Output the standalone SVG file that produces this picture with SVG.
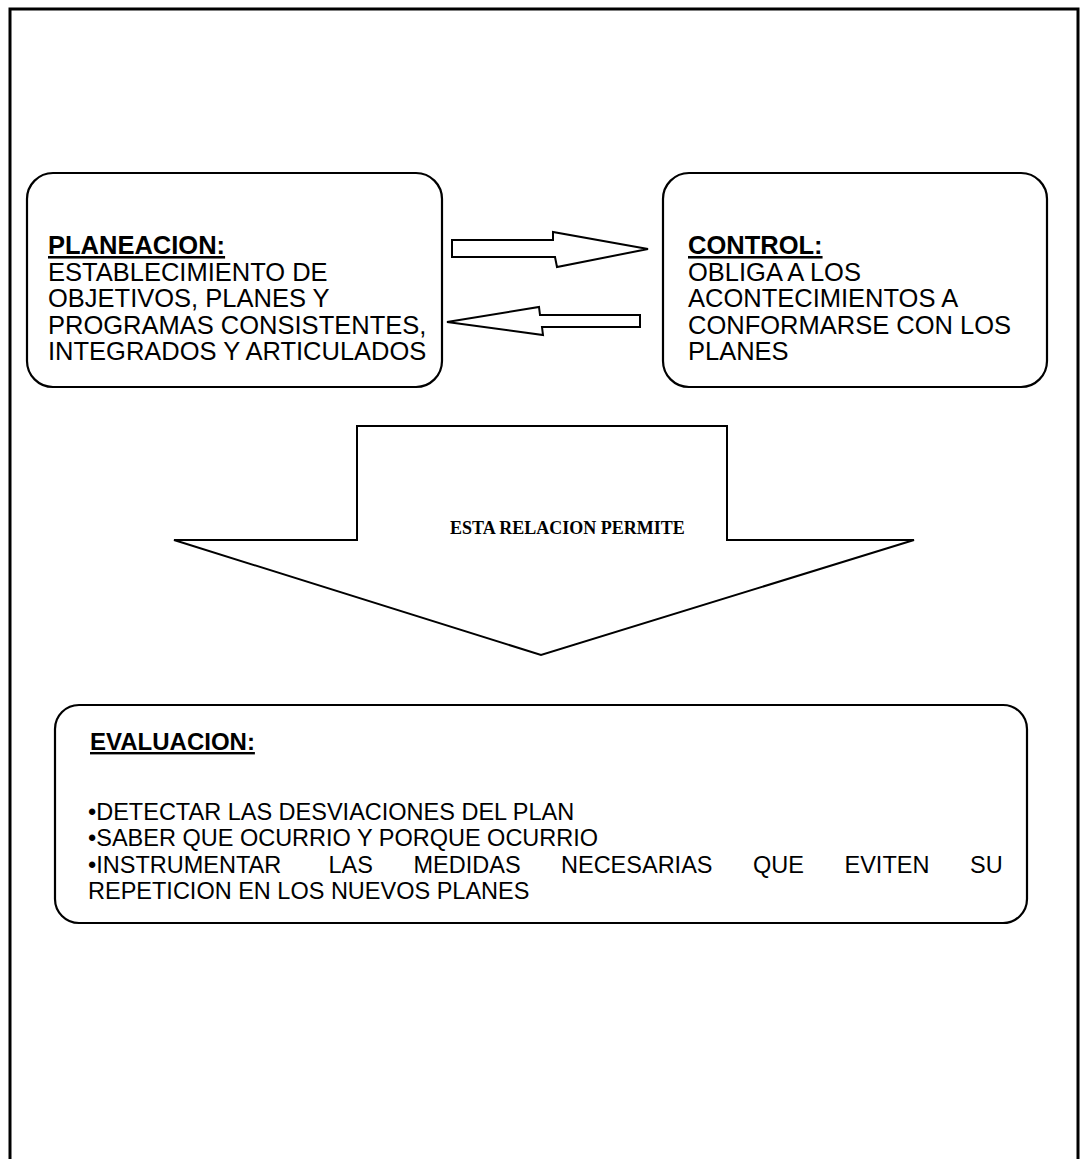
<svg xmlns="http://www.w3.org/2000/svg" width="1084" height="1159" viewBox="0 0 1084 1159">
<style>
.box{fill:#fff;stroke:#000;stroke-width:2.2}
.arr{fill:#fff;stroke:#000;stroke-width:2;stroke-linejoin:miter}
.t{font-family:"Liberation Sans",Arial,sans-serif;font-size:25.5px;fill:#000}
.h{font-family:"Liberation Sans",Arial,sans-serif;font-size:25.5px;font-weight:bold;fill:#000;text-decoration:underline}
.n{font-family:"Liberation Sans",Arial,sans-serif;font-size:23.5px;fill:#000}
.s{font-family:"Liberation Serif","Times New Roman",serif;font-size:18px;font-weight:bold;fill:#000}
</style>
<rect width="1084" height="1159" fill="#fff"/>
<path id="frame" d="M10,1159 V9 H1078 V1159" fill="none" stroke="#000" stroke-width="3"/>
<g id="planeacion">
<rect class="box" x="27" y="173" width="415" height="214" rx="26" ry="26"/>
<text class="h" x="48" y="254">PLANEACION:</text>
<text class="t" x="48" y="281">ESTABLECIMIENTO DE</text>
<text class="t" x="48" y="307">OBJETIVOS, PLANES Y</text>
<text class="t" x="48" y="334">PROGRAMAS CONSISTENTES,</text>
<text class="t" x="48" y="360">INTEGRADOS Y ARTICULADOS</text>
</g>
<g id="control">
<rect class="box" x="663" y="173" width="384" height="214" rx="26" ry="26"/>
<text class="h" x="688" y="254">CONTROL:</text>
<text class="t" x="688" y="281">OBLIGA A LOS</text>
<text class="t" x="688" y="307">ACONTECIMIENTOS A</text>
<text class="t" x="688" y="334">CONFORMARSE CON LOS</text>
<text class="t" x="688" y="360">PLANES</text>
</g>
<g id="connectors">
<polygon class="arr" points="452,240 553,240 553,232 648,249 557,267 555,257 452,257"/>
<polygon class="arr" points="640,315 540,315 539,307 447,322 543,335 542,327 640,327"/>
<g id="relacion">
<polygon class="arr" points="357,540 357,426 727,426 727,540 914,540 541,655 174,540"/>
<text class="s" x="450" y="534">ESTA RELACION PERMITE</text>
</g>
</g>
<g id="evaluacion">
<rect class="box" x="55" y="705" width="972" height="218" rx="24" ry="24"/>
<text class="h" x="90" y="750" style="font-size:24px">EVALUACION:</text>
<text class="n" x="88" y="820">•DETECTAR LAS DESVIACIONES DEL PLAN</text>
<text class="n" x="88" y="846">•SABER QUE OCURRIO Y PORQUE OCURRIO</text>
<text class="n" y="873"><tspan x="88">•INSTRUMENTAR</tspan><tspan x="328.5">LAS</tspan><tspan x="413.5">MEDIDAS</tspan><tspan x="561">NECESARIAS</tspan><tspan x="753">QUE</tspan><tspan x="844.5">EVITEN</tspan><tspan x="970">SU</tspan></text>
<text class="n" x="88" y="899">REPETICION EN LOS NUEVOS PLANES</text>
</g>
</svg>
